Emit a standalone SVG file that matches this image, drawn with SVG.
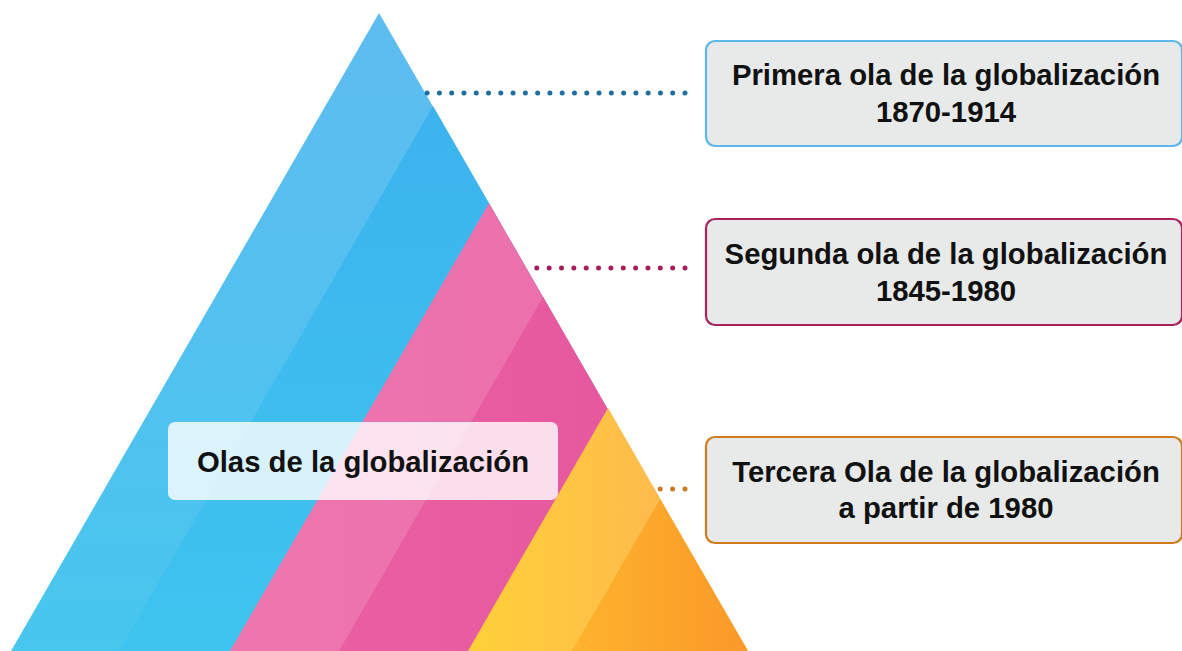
<svg xmlns="http://www.w3.org/2000/svg" width="1182" height="651" viewBox="0 0 1182 651">
<style>
.t{font-family:"Liberation Sans",Arial,sans-serif;font-weight:bold;font-size:29.3px;fill:#111;text-anchor:middle}
.box{fill:#E8EAEA;stroke-width:2.2}
.dots{fill:none;stroke-width:5;stroke-linecap:round}
</style>
<defs>
<linearGradient id="bl1" gradientUnits="userSpaceOnUse" x1="0" y1="13" x2="0" y2="651"><stop offset="0" stop-color="#5EBCF0"/><stop offset="1" stop-color="#47C6EE"/></linearGradient>
<linearGradient id="bl2" gradientUnits="userSpaceOnUse" x1="0" y1="107" x2="0" y2="651"><stop offset="0" stop-color="#3CB3EE"/><stop offset="1" stop-color="#3FC4EF"/></linearGradient>
<linearGradient id="pk1" gradientUnits="userSpaceOnUse" x1="230" y1="0" x2="540" y2="0"><stop offset="0" stop-color="#EE76AE"/><stop offset="1" stop-color="#EB70AC"/></linearGradient>
<linearGradient id="pk2" gradientUnits="userSpaceOnUse" x1="340" y1="0" x2="747" y2="0"><stop offset="0" stop-color="#E95FA2"/><stop offset="1" stop-color="#E6559D"/></linearGradient>
<linearGradient id="or1" gradientUnits="userSpaceOnUse" x1="468" y1="0" x2="660" y2="0"><stop offset="0" stop-color="#FFD038"/><stop offset="1" stop-color="#FDBB4C"/></linearGradient>
<linearGradient id="or2" gradientUnits="userSpaceOnUse" x1="560" y1="0" x2="750" y2="0"><stop offset="0" stop-color="#FDB52E"/><stop offset="1" stop-color="#FB9828"/></linearGradient>
</defs>
<g id="pyramid-blue">
<polygon points="379,13 11,651 747,651" fill="url(#bl1)"/>
<polygon points="433,106 119,651 747,651" fill="url(#bl2)"/>
</g>
<g id="pyramid-pink">
<polygon points="489,203 230,651 747,651" fill="url(#pk1)"/>
<polygon points="543,297 339,651 747,651" fill="url(#pk2)"/>
</g>
<g id="pyramid-orange">
<polygon points="608,408 468,651 748,651" fill="url(#or1)"/>
<polygon points="660,499 572,651 748,651" fill="url(#or2)"/>
</g>
<g id="title">
<rect x="168" y="422" width="390" height="78" rx="7" fill="#FFFFFF" fill-opacity="0.8"/>
<text class="t" x="363" y="472">Olas de la globalización</text>
</g>
<g id="connectors">
<path class="dots" d="M685,93 L426.5,93" stroke="#1E6F9F" stroke-dasharray="0 12.28"/>
<path class="dots" d="M685,268 L536.5,268" stroke="#A81C5C" stroke-dasharray="0 12.35"/>
<path class="dots" d="M685,489 L660,489" stroke="#C97A22" stroke-dasharray="0 12.4"/>
</g>
<g id="wave1">
<rect class="box" x="706" y="41" width="476" height="105" rx="9" stroke="#5CB7EA"/>
<text class="t" x="946" y="85">Primera ola de la globalización</text>
<text class="t" x="946" y="122">1870-1914</text>
</g>
<g id="wave2">
<rect class="box" x="706" y="219" width="476" height="106" rx="9" stroke="#A8245C"/>
<text class="t" x="946" y="264">Segunda ola de la globalización</text>
<text class="t" x="946" y="301">1845-1980</text>
</g>
<g id="wave3">
<rect class="box" x="706" y="437" width="476" height="106" rx="9" stroke="#D07B1C"/>
<text class="t" x="946" y="482">Tercera Ola de la globalización</text>
<text class="t" x="946" y="518">a partir de 1980</text>
</g>
</svg>
